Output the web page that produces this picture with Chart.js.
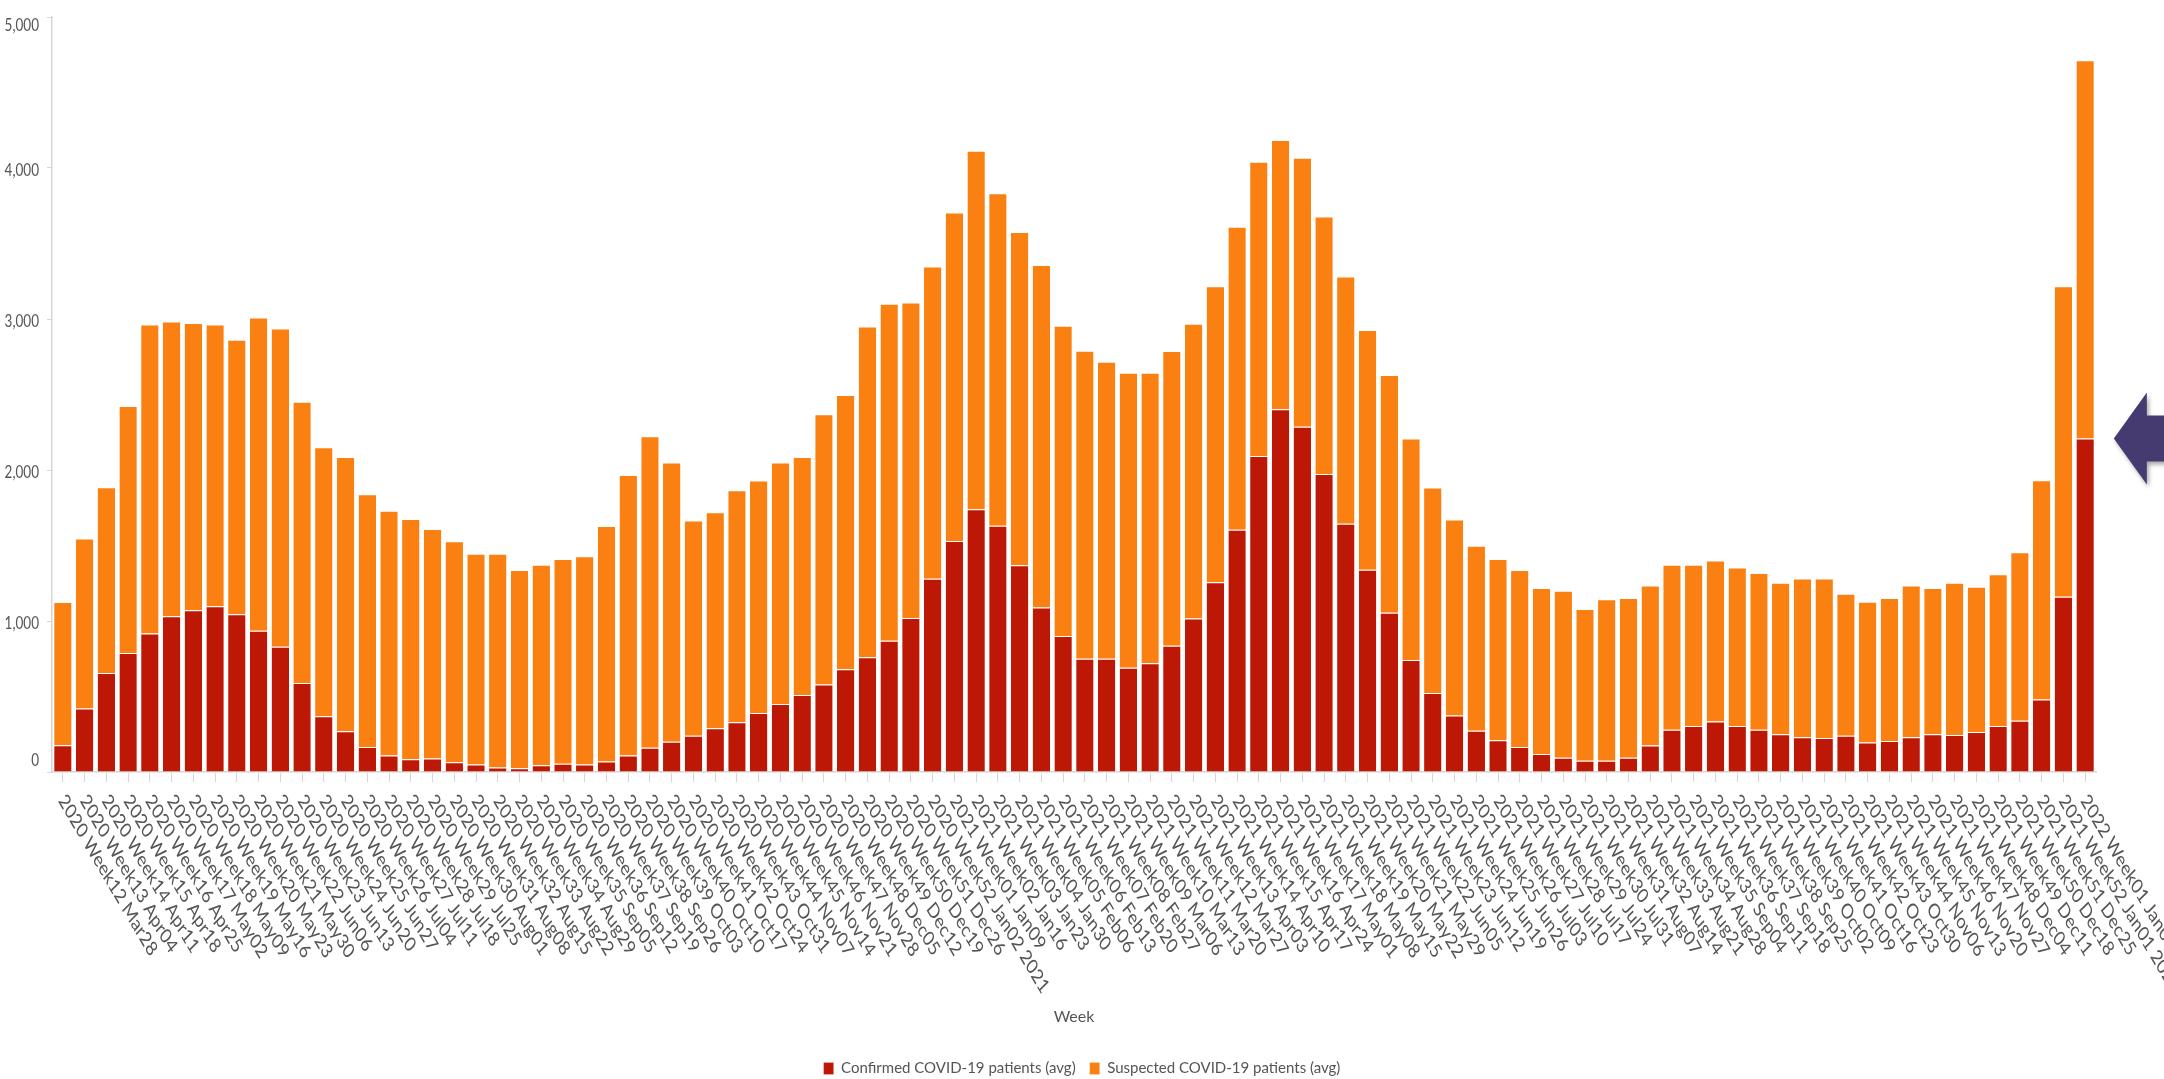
<!DOCTYPE html>
<html>
<head>
<meta charset="utf-8">
<title>COVID-19 patients by week</title>
<script src="https://cdn.jsdelivr.net/npm/chart.js@4.4.0/dist/chart.umd.min.js"></script>
<style>
  html, body { margin: 0; padding: 0; background: #fff; }
  canvas { display: block; }
</style>
</head>
<body>
<canvas id="chart" width="2164" height="1079"></canvas>
<script>
const weeks = [
  "2020 Week12 Mar28", "2020 Week13 Apr04", "2020 Week14 Apr11", "2020 Week15 Apr18", "2020 Week16 Apr25",
  "2020 Week17 May02", "2020 Week18 May09", "2020 Week19 May16", "2020 Week20 May23", "2020 Week21 May30",
  "2020 Week22 Jun06", "2020 Week23 Jun13", "2020 Week24 Jun20", "2020 Week25 Jun27", "2020 Week26 Jul04",
  "2020 Week27 Jul11", "2020 Week28 Jul18", "2020 Week29 Jul25", "2020 Week30 Aug01", "2020 Week31 Aug08",
  "2020 Week32 Aug15", "2020 Week33 Aug22", "2020 Week34 Aug29", "2020 Week35 Sep05", "2020 Week36 Sep12",
  "2020 Week37 Sep19", "2020 Week38 Sep26", "2020 Week39 Oct03", "2020 Week40 Oct10", "2020 Week41 Oct17",
  "2020 Week42 Oct24", "2020 Week43 Oct31", "2020 Week44 Nov07", "2020 Week45 Nov14", "2020 Week46 Nov21",
  "2020 Week47 Nov28", "2020 Week48 Dec05", "2020 Week49 Dec12", "2020 Week50 Dec19", "2020 Week51 Dec26",
  "2020 Week52 Jan02 2021",
  "2021 Week01 Jan09", "2021 Week02 Jan16", "2021 Week03 Jan23", "2021 Week04 Jan30", "2021 Week05 Feb06",
  "2021 Week06 Feb13", "2021 Week07 Feb20", "2021 Week08 Feb27", "2021 Week09 Mar06", "2021 Week10 Mar13",
  "2021 Week11 Mar20", "2021 Week12 Mar27", "2021 Week13 Apr03", "2021 Week14 Apr10", "2021 Week15 Apr17",
  "2021 Week16 Apr24", "2021 Week17 May01", "2021 Week18 May08", "2021 Week19 May15", "2021 Week20 May22",
  "2021 Week21 May29", "2021 Week22 Jun05", "2021 Week23 Jun12", "2021 Week24 Jun19", "2021 Week25 Jun26",
  "2021 Week26 Jul03", "2021 Week27 Jul10", "2021 Week28 Jul17", "2021 Week29 Jul24", "2021 Week30 Jul31",
  "2021 Week31 Aug07", "2021 Week32 Aug14", "2021 Week33 Aug21", "2021 Week34 Aug28", "2021 Week35 Sep04",
  "2021 Week36 Sep11", "2021 Week37 Sep18", "2021 Week38 Sep25", "2021 Week39 Oct02", "2021 Week40 Oct09",
  "2021 Week41 Oct16", "2021 Week42 Oct23", "2021 Week43 Oct30", "2021 Week44 Nov06", "2021 Week45 Nov13",
  "2021 Week46 Nov20", "2021 Week47 Nov27", "2021 Week48 Dec04", "2021 Week49 Dec11", "2021 Week50 Dec18",
  "2021 Week51 Dec25", "2021 Week52 Jan01 2022",
  "2022 Week01 Jan08 2022"
];

const confirmed = [
  177, 420, 656, 788, 917, 1031, 1071, 1097, 1045, 935,
  830, 590, 370, 270, 165, 110, 85, 90, 65, 50,
  30, 25, 45, 55, 50, 70, 110, 160, 200, 240,
  290, 330, 390, 450, 510, 580, 680, 760, 870, 1020,
  1280, 1530, 1740, 1630, 1370, 1090, 900, 750, 750, 690,
  720, 836, 1017, 1257, 1605, 2093, 2403, 2286, 1974, 1644,
  1340, 1054, 741, 524, 375, 273, 210, 165, 120, 95,
  75, 75, 95, 175, 280, 305, 335, 305, 280, 250,
  230, 225, 240, 195, 205, 230, 250, 245, 265, 305,
  340, 480, 1160, 2208
];

const suspected = [
  949, 1127, 1229, 1636, 2047, 1952, 1903, 1867, 1818, 2075,
  2107, 1862, 1780, 1816, 1675, 1620, 1590, 1520, 1463, 1396,
  1416, 1312, 1328, 1355, 1378, 1559, 1857, 2063, 1849, 1425,
  1430, 1536, 1540, 1599, 1576, 1790, 1817, 2190, 2231, 2090,
  2068, 2175, 2375, 2202, 2206, 2267, 2055, 2040, 1967, 1954,
  1924, 1952, 1952, 1960, 2006, 1949, 1782, 1782, 1704, 1638,
  1587, 1575, 1467, 1360, 1297, 1226, 1200, 1172, 1098, 1105,
  1005, 1069, 1058, 1060, 1093, 1068, 1065, 1050, 1038, 1004,
  1052, 1057, 941, 932, 948, 1005, 968, 1009, 962, 1004,
  1115, 1452, 2057, 2505
];

const yTicks = [0, 1000, 2000, 3000, 4000, 5000];

const RED = "#BD1705";
const ORANGE = "#FA8011";
const TEXT = "#555";
const AXIS = "#d6d6d6";
// the original screenshot is stretched vertically, text included
const STRETCH = 1.3;

Chart.defaults.font.family = "Lato";

// slanted week labels and the value labels, drawn from the chart's scales
const axisLabels = {
  id: "axisLabels",
  afterDraw(chart) {
    const ctx = chart.ctx;
    const xs = chart.scales.x;
    const ys = chart.scales.y;
    ctx.save();
    ctx.fillStyle = TEXT;

    ctx.font = "16px Lato";
    ctx.textAlign = "left";
    ctx.textBaseline = "middle";
    weeks.forEach((w, i) => {
      ctx.save();
      ctx.translate(xs.getPixelForValue(i) - 1, xs.top + 25);
      ctx.scale(1, STRETCH);
      ctx.rotate(52.6 * Math.PI / 180);
      ctx.fillText(w, 0, 0);
      ctx.restore();
    });

    ctx.font = "13.5px Lato";
    ctx.textAlign = "right";
    yTicks.forEach((v, i) => {
      let py = ys.getPixelForValue(v);
      if (i === 0) py -= 12;
      else if (i === yTicks.length - 1) py += 8;
      else py += 2;
      ctx.save();
      ctx.translate(ys.right - 13, py);
      ctx.scale(1, STRETCH);
      ctx.fillText(v.toLocaleString("en-US"), 0, 0);
      ctx.restore();
    });
    ctx.restore();
  }
};

// purple arrow pointing at the latest confirmed value
const arrow = {
  id: "arrow",
  afterDraw(chart) {
    const ctx = chart.ctx;
    const bars = chart.getDatasetMeta(0).data;
    const last = bars[bars.length - 1];
    const tipX = last.x + last.width / 2 + 20;
    const tipY = last.y;
    ctx.save();
    ctx.shadowColor = "rgba(0,0,0,0.35)";
    ctx.shadowBlur = 4;
    ctx.shadowOffsetX = 2;
    ctx.shadowOffsetY = 3;
    ctx.fillStyle = "#463B70";
    ctx.beginPath();
    ctx.moveTo(tipX, tipY);
    ctx.lineTo(tipX + 33, tipY - 46);
    ctx.lineTo(tipX + 33, tipY - 23);
    ctx.lineTo(chart.width + 10, tipY - 23);
    ctx.lineTo(chart.width + 10, tipY + 23);
    ctx.lineTo(tipX + 33, tipY + 23);
    ctx.lineTo(tipX + 33, tipY + 46);
    ctx.closePath();
    ctx.fill();
    ctx.restore();
  }
};

new Chart(document.getElementById("chart"), {
  type: "bar",
  data: {
    labels: weeks,
    datasets: [
      {
        label: "Confirmed COVID-19 patients (avg)",
        data: confirmed,
        backgroundColor: RED,
        borderColor: "rgba(255,255,255,0.75)",
        borderWidth: { top: 1 }
      },
      {
        label: "Suspected COVID-19 patients (avg)",
        data: suspected,
        backgroundColor: ORANGE,
        borderColor: "rgba(255,255,255,0.75)",
        borderWidth: { top: 1 }
      }
    ]
  },
  options: {
    responsive: false,
    devicePixelRatio: 1,
    animation: false,
    barPercentage: 0.8,
    categoryPercentage: 1.0,
    layout: { padding: { top: 17, left: 0, right: 0, bottom: 0 } },
    scales: {
      x: {
        stacked: true,
        grid: { drawOnChartArea: false, offset: false, tickLength: 10, color: AXIS },
        border: { color: AXIS, width: 1.5 },
        ticks: { display: false, autoSkip: false },
        title: {
          display: true,
          text: "Week",
          color: TEXT,
          font: { size: 16 },
          padding: { top: 0, bottom: 21 }
        },
        afterFit(scale) {
          scale.height = 1079 - 772 - scale.chart.legend.height;
        }
      },
      y: {
        stacked: true,
        min: 0,
        max: 5000,
        ticks: { display: false, stepSize: 1000 },
        grid: { drawOnChartArea: false, tickLength: 5, color: AXIS },
        border: { color: AXIS, width: 1.5 },
        afterFit(scale) {
          scale.width = 52;
        }
      },
      // empty margin on the right where the arrow sits
      pad: {
        type: "linear",
        position: "right",
        grid: { display: false },
        border: { display: false },
        ticks: { display: false },
        afterFit(scale) {
          scale.width = 68;
        }
      }
    },
    plugins: {
      tooltip: { enabled: false },
      legend: {
        position: "bottom",
        maxHeight: 32,
        labels: {
          color: TEXT,
          font: { size: 15 },
          boxWidth: 10,
          boxHeight: 12,
          padding: 14
        }
      }
    }
  },
  plugins: [axisLabels, arrow]
});
</script>
</body>
</html>
